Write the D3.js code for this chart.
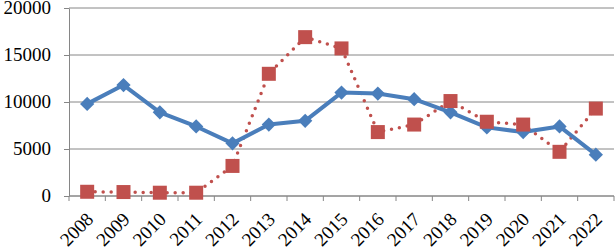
<!DOCTYPE html>
<html>
<head>
<meta charset="utf-8">
<script src="https://cdn.jsdelivr.net/npm/d3@7"></script>
<style>
  body { margin: 0; background: #fff; }
  text { font-family: 'Liberation Serif'; }
</style>
</head>
<body>
<svg id="chart" width="615" height="251" font-family="Liberation Serif"></svg>
<script>
// chart data
const years = ['2008', '2009', '2010', '2011', '2012', '2013', '2014', '2015',
    '2016', '2017', '2018', '2019', '2020', '2021', '2022'];
const blueSeries = [9800, 11800, 8900, 7400, 5600, 7600, 8000, 11000,
    10900, 10300, 8900, 7300, 6800, 7400, 4400];
const redSeries = [450, 420, 350, 350, 3200, 13000, 16900, 15700,
    6800, 7600, 10100, 7900, 7600, 4700, 9300];
const yTicks = [0, 5000, 10000, 15000, 20000];

const margin = {top: 8, right: 1, bottom: 55, left: 69};
const width = 615 - margin.left - margin.right,
    height = 251 - margin.top - margin.bottom;

const svg = d3.select('#chart')
    .append('g')
    .attr('transform', `translate(${margin.left},${margin.top})`);

const x = d3.scaleBand().domain(years).range([0, width]);
const y = d3.scaleLinear().domain([0, 20000]).range([height, 0]);
const cx = d => x(d) + x.bandwidth() / 2;

// gridlines
svg.append('g')
    .selectAll('line')
    .data(yTicks)
    .enter().append('line')
    .attr('x1', 0).attr('x2', width)
    .attr('y1', d => y(d)).attr('y2', d => y(d))
    .attr('stroke', '#868686').attr('stroke-width', 1);

// y axis (labels drawn separately so the axis group doesn't force sans-serif)
const yAxis = svg.append('g')
    .call(d3.axisLeft(y).tickValues(yTicks).tickSizeInner(5).tickSizeOuter(0).tickFormat(''));
yAxis.attr('font-family', 'Liberation Serif');
yAxis.select('.domain').attr('stroke', '#868686');
yAxis.selectAll('.tick line').attr('stroke', '#868686');

svg.append('g')
    .selectAll('text')
    .data(yTicks)
    .enter().append('text')
    .attr('x', -18)
    .attr('y', d => y(d))
    .attr('dy', '0.34em')
    .attr('text-anchor', 'end')
    .attr('font-family', 'Liberation Serif')
    .attr('font-size', 19)
    .text(d => d);

// x axis, ticks at category boundaries
const xAxis = svg.append('g').attr('transform', `translate(0,${height})`);
xAxis.append('line')
    .attr('x1', 0).attr('x2', width)
    .attr('stroke', '#868686');
xAxis.selectAll('.tick')
    .data(d3.range(years.length + 1))
    .enter().append('line')
    .attr('x1', i => i * x.step()).attr('x2', i => i * x.step())
    .attr('y1', 0).attr('y2', 5)
    .attr('stroke', '#868686');
xAxis.selectAll('text')
    .data(years)
    .enter().append('text')
    .attr('transform', d => `translate(${cx(d) - 2},${15}) rotate(-45)`)
    .attr('text-anchor', 'end')
    .attr('dy', '0.7em')
    .attr('font-family', 'Liberation Serif')
    .attr('font-size', 19)
    .text(d => d);

// red dotted series
const line = d3.line().x((d, i) => cx(years[i])).y(d => y(d));
svg.append('path')
    .datum(redSeries)
    .attr('d', line)
    .attr('fill', 'none')
    .attr('stroke', '#C0504D')
    .attr('stroke-width', 3.5)
    .attr('stroke-linecap', 'round')
    .attr('stroke-dasharray', '0 8');

// blue solid series
svg.append('path')
    .datum(blueSeries)
    .attr('d', line)
    .attr('fill', 'none')
    .attr('stroke', '#4A7EBB')
    .attr('stroke-width', 4)
    .attr('stroke-linejoin', 'round');

svg.selectAll('.diamond')
    .data(blueSeries)
    .enter().append('path')
    .attr('d', d3.symbol().type(d3.symbolDiamond2).size(130))
    .attr('transform', (d, i) => `translate(${cx(years[i])},${y(d)})`)
    .attr('fill', '#4A7EBB');

svg.selectAll('.square')
    .data(redSeries)
    .enter().append('rect')
    .attr('x', (d, i) => cx(years[i]) - 7)
    .attr('y', d => y(d) - 7)
    .attr('width', 14).attr('height', 14)
    .attr('fill', '#C0504D');
</script>
</body>
</html>
